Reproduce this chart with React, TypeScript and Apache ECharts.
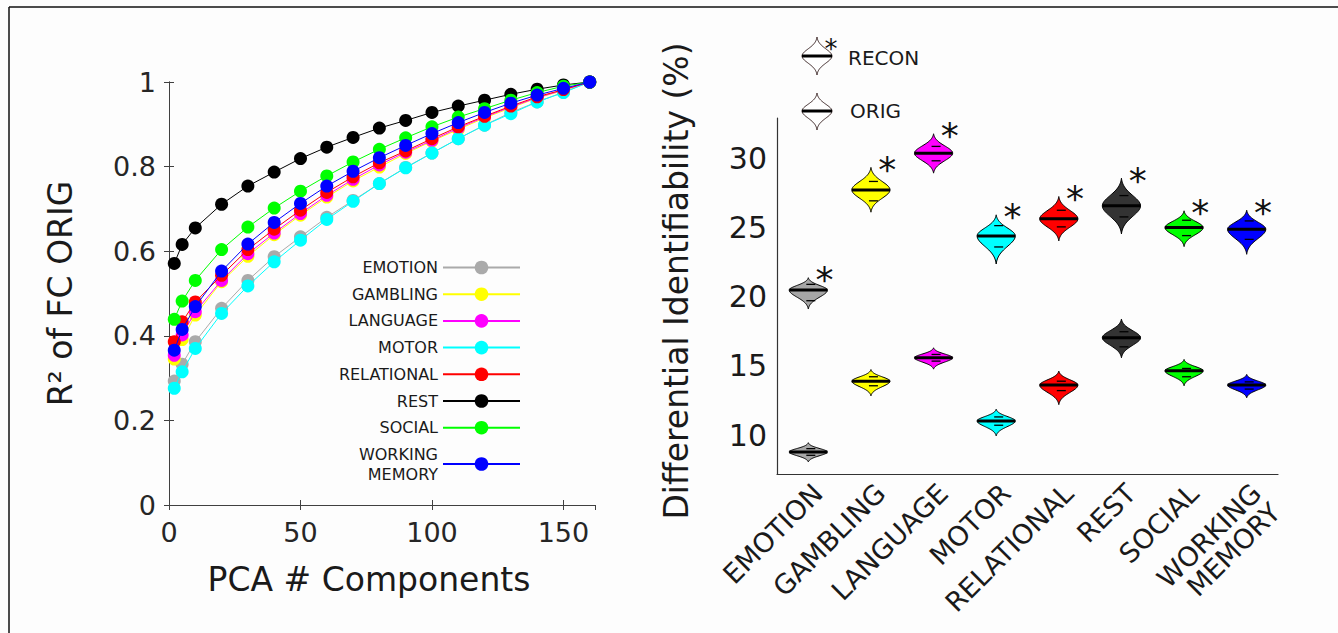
import React, { useEffect, useRef } from "react";
import * as echarts from "echarts";

// ---------- Left panel data ----------
const pcaComponents = [2, 5, 10, 20, 30, 40, 50, 60, 70, 80, 90, 100, 110, 120, 130, 140, 150, 160];
const taskNames = ["EMOTION", "GAMBLING", "LANGUAGE", "MOTOR", "RELATIONAL", "REST", "SOCIAL", "WORKING MEMORY"];
const lineColors = ["#aaaaaa", "#ffff00", "#ff00ff", "#00ffff", "#ff0000", "#000000", "#00ff00", "#0000ff"];
const r2Emotion = [0.293, 0.333, 0.386, 0.465, 0.531, 0.587, 0.634, 0.68, 0.72, 0.76, 0.798, 0.832, 0.866, 0.898, 0.928, 0.953, 0.976, 1.0];
const r2Gambling = [0.345, 0.391, 0.449, 0.528, 0.588, 0.639, 0.685, 0.728, 0.766, 0.799, 0.831, 0.86, 0.888, 0.915, 0.939, 0.962, 0.98, 1.0];
const r2Language = [0.354, 0.402, 0.457, 0.531, 0.594, 0.643, 0.689, 0.732, 0.77, 0.804, 0.834, 0.862, 0.891, 0.917, 0.941, 0.963, 0.981, 1.0];
const r2Motor = [0.276, 0.315, 0.37, 0.453, 0.518, 0.575, 0.626, 0.675, 0.718, 0.76, 0.797, 0.832, 0.866, 0.898, 0.925, 0.953, 0.975, 1.0];
const r2Relational = [0.386, 0.433, 0.48, 0.543, 0.604, 0.652, 0.697, 0.739, 0.776, 0.809, 0.837, 0.866, 0.894, 0.919, 0.943, 0.965, 0.982, 1.0];
const r2Rest = [0.571, 0.616, 0.655, 0.711, 0.754, 0.787, 0.819, 0.846, 0.869, 0.891, 0.909, 0.928, 0.943, 0.957, 0.971, 0.983, 0.993, 1.0];
const r2Social = [0.439, 0.482, 0.531, 0.604, 0.657, 0.702, 0.742, 0.778, 0.811, 0.841, 0.868, 0.894, 0.917, 0.937, 0.957, 0.975, 0.99, 1.0];
const r2WorkingMemory = [0.366, 0.415, 0.469, 0.553, 0.617, 0.668, 0.713, 0.754, 0.789, 0.821, 0.85, 0.878, 0.904, 0.928, 0.95, 0.969, 0.985, 1.0];
const r2Series = [r2Emotion, r2Gambling, r2Language, r2Motor, r2Relational, r2Rest, r2Social, r2WorkingMemory];

// ---------- Right panel data (violins) ----------
const violinFills = ["#a6a6a6", "#ffff00", "#ff00ff", "#00ffff", "#ff0000", "#333333", "#00ff00", "#0000ff"];
const reconMin = [19.11, 26.1, 28.92, 22.36, 24.03, 24.53, 23.62, 23.06];
const reconQ1 = [19.71, 26.92, 29.81, 23.59, 25.04, 25.76, 24.41, 24.14];
const reconMedian = [20.48, 27.71, 30.36, 24.39, 25.62, 26.56, 24.99, 24.87];
const reconQ3 = [20.89, 28.32, 30.85, 25.13, 26.24, 27.3, 25.52, 25.47];
const reconMax = [21.37, 29.33, 31.76, 25.91, 27.23, 28.55, 26.2, 26.24];
const origMin = [8.07, 12.84, 14.77, 9.95, 12.21, 15.59, 13.57, 12.7];
const origQ1 = [8.55, 13.57, 15.35, 10.72, 13.22, 16.38, 14.22, 13.33];
const origMedian = [8.79, 13.9, 15.59, 11.03, 13.62, 17.04, 14.65, 13.62];
const origQ3 = [9.03, 14.22, 15.83, 11.32, 13.9, 17.47, 14.82, 13.85];
const origMax = [9.46, 14.74, 16.31, 11.88, 14.63, 18.39, 15.47, 14.39];
const rightYTicks = [10, 15, 20, 25, 30];

const FONT = "DejaVu Sans";
const TXT = "#262626";

function profile(t: number) {
  const k = 1.9;
  const e = Math.exp(-k * k);
  return (Math.exp(-(k * t) * (k * t)) - e) / (1 - e);
}

function violinPoints(cx: number, yTop: number, yMed: number, yBot: number, hw: number) {
  const N = 28;
  const right: number[][] = [];
  for (let i = 0; i <= N; i++) {
    const t = 1 - i / N;
    right.push([cx + hw * profile(t), yMed + (yTop - yMed) * t]);
  }
  for (let i = 1; i <= N; i++) {
    const t = i / N;
    right.push([cx + hw * profile(t), yMed + (yBot - yMed) * t]);
  }
  const left = right.slice().reverse().map((p) => [2 * cx - p[0], p[1]]);
  return right.concat(left);
}

function makeRender(withStar: boolean) {
  return (params: any, api: any) => {
    const ci = api.value(0);
    const lo = api.value(1);
    const q1 = api.value(2);
    const med = api.value(3);
    const q3 = api.value(4);
    const hi = api.value(5);
    const fill = violinFills[ci];
    const [cx, yMed] = api.coord([ci, med]);
    const yHi = api.coord([ci, hi])[1];
    const yLo = api.coord([ci, lo])[1];
    const yQ1 = api.coord([ci, q1])[1];
    const yQ3 = api.coord([ci, q3])[1];
    const band = api.size([1, 0])[0];
    const hw = band * 0.305;
    const children: any[] = [
      {
        type: "polygon",
        shape: { points: violinPoints(cx, yHi, yMed, yLo, hw) },
        style: { fill, stroke: "#000", lineWidth: 1 },
      },
      {
        type: "line",
        shape: { x1: cx - hw, y1: yMed, x2: cx + hw, y2: yMed },
        style: { stroke: "#000", lineWidth: 3 },
      },
      {
        type: "line",
        shape: { x1: cx - 2, y1: yQ3, x2: cx + 7, y2: yQ3 },
        style: { stroke: "#000", lineWidth: 1.3 },
      },
      {
        type: "line",
        shape: { x1: cx - 2, y1: yQ1, x2: cx + 7, y2: yQ1 },
        style: { stroke: "#000", lineWidth: 1.3 },
      },
    ];
    if (withStar) {
      children.push({
        type: "text",
        style: {
          text: "*",
          x: cx + hw * 0.85,
          y: yHi + 2,
          align: "center",
          verticalAlign: "middle",
          fontSize: 36,
          fontFamily: FONT,
          fill: "#111",
        },
      });
    }
    return { type: "group", children };
  };
}

function legendIcon(cx: number, yTop: number, yMed: number, yBot: number, star: boolean) {
  const els: any[] = [
    {
      type: "polygon",
      shape: { points: violinPoints(cx, yTop, yMed, yBot, 15) },
      style: { fill: "#ffffff", stroke: "#3b2626", lineWidth: 1 },
    },
    {
      type: "line",
      shape: { x1: cx - 15, y1: yMed, x2: cx + 15, y2: yMed },
      style: { stroke: "#000", lineWidth: 3 },
    },
  ];
  if (star) {
    els.push({
      type: "text",
      style: { text: "*", x: cx + 14, y: yTop + 12, align: "center", verticalAlign: "middle", fontSize: 26, fontFamily: FONT, fill: "#111" },
    });
  }
  return els;
}

export default function App() {
  const ref = useRef<HTMLDivElement>(null);
  useEffect(() => {
    if (!ref.current) return;
    const chart = echarts.init(ref.current, null, { renderer: "svg" });

    const lineSeries = taskNames.map((name, i) => ({
      name,
      type: "line",
      xAxisIndex: 0,
      yAxisIndex: 0,
      data: pcaComponents.map((x, j) => [x, r2Series[i][j]]),
      symbol: "circle",
      symbolSize: 13,
      showSymbol: true,
      color: lineColors[i],
      itemStyle: { color: lineColors[i] },
      lineStyle: { color: lineColors[i], width: 1 },
      emphasis: { disabled: true },
      z: 2 + i,
    }));

    const reconData = taskNames.map((_, i) => [i, reconMin[i], reconQ1[i], reconMedian[i], reconQ3[i], reconMax[i]]);
    const origData = taskNames.map((_, i) => [i, origMin[i], origQ1[i], origMedian[i], origQ3[i], origMax[i]]);

    const axisLineStyle = { color: "#404040", width: 1 };

    const option: any = {
      animation: false,
      backgroundColor: "#fdfdfd",
      textStyle: { fontFamily: FONT },
      grid: [
        { left: 169, top: 82, width: 426, height: 423 },
        { left: 777, top: 118, width: 501, height: 356 },
      ],
      xAxis: [
        {
          gridIndex: 0,
          type: "value",
          min: 0,
          max: 162,
          interval: 50,
          position: "bottom",
          axisLine: { show: true, lineStyle: axisLineStyle },
          axisTick: { show: true, inside: true, length: 5, lineStyle: axisLineStyle },
          axisLabel: { fontSize: 27, color: TXT, margin: 14, showMaxLabel: false },
          splitLine: { show: false },
          name: "PCA # Components",
          nameLocation: "middle",
          nameGap: 58,
          nameTextStyle: { fontSize: 33, color: "#1a1a1a", padding: [0, 26, 0, 0] },
        },
        {
          gridIndex: 0,
          type: "value",
          min: 0,
          max: 162,
          interval: 50,
          position: "top",
          axisLine: { show: true, lineStyle: axisLineStyle },
          axisTick: { show: true, inside: true, length: 5, lineStyle: axisLineStyle },
          axisLabel: { show: false },
          splitLine: { show: false },
        },
        {
          gridIndex: 1,
          type: "category",
          data: taskNames,
          boundaryGap: true,
          axisLine: { show: true, lineStyle: { color: "#333", width: 1.2 } },
          axisTick: { show: false },
          axisLabel: {
            rotate: 45,
            interval: 0,
            fontSize: 27,
            color: "#1a1a1a",
            margin: 5,
            verticalAlign: "top",
            formatter: (v: string) => (v === "WORKING MEMORY" ? "WORKING\nMEMORY" : v),
          },
          splitLine: { show: false },
        },
      ],
      yAxis: [
        {
          gridIndex: 0,
          type: "value",
          min: 0,
          max: 1,
          interval: 0.2,
          position: "left",
          axisLine: { show: true, lineStyle: axisLineStyle },
          axisTick: { show: true, inside: true, length: 5, lineStyle: axisLineStyle },
          axisLabel: { fontSize: 27, color: TXT, margin: 13 },
          splitLine: { show: false },
          name: "R² of FC ORIG",
          nameLocation: "middle",
          nameRotate: 90,
          nameGap: 92,
          nameTextStyle: { fontSize: 33, color: "#1a1a1a" },
        },
        {
          gridIndex: 0,
          type: "value",
          min: 0,
          max: 1,
          interval: 0.2,
          position: "right",
          axisLine: { show: true, lineStyle: axisLineStyle },
          axisTick: { show: true, inside: true, length: 5, lineStyle: axisLineStyle },
          axisLabel: { show: false },
          splitLine: { show: false },
        },
        {
          gridIndex: 1,
          type: "value",
          min: 7.2,
          max: 32.9,
          position: "left",
          axisLine: { show: true, lineStyle: { color: "#333", width: 1.2 } },
          axisTick: { show: false },
          axisLabel: { fontSize: 30, color: "#1a1a1a", margin: 10, customValues: rightYTicks },
          splitLine: { show: false },
          name: "Differential Identifiability (%)",
          nameLocation: "middle",
          nameRotate: 90,
          nameGap: 84,
          nameTextStyle: { fontSize: 33, color: "#1a1a1a", padding: [0, 0, 0, 30] },
        },
      ],
      legend: [
        {
          data: taskNames.slice(0, 7),
          orient: "vertical",
          align: "right",
          right: 1338 - 521,
          top: 259.5,
          padding: 0,
          itemWidth: 77,
          itemHeight: 17,
          itemGap: 10.7,
          textStyle: { fontSize: 16, color: "#1a1a1a", fontFamily: FONT },
          selectedMode: false,
        },
        {
          data: ["WORKING MEMORY"],
          orient: "vertical",
          align: "right",
          right: 1338 - 521,
          top: 444,
          padding: 0,
          itemWidth: 77,
          itemHeight: 17,
          formatter: () => "WORKING\nMEMORY",
          textStyle: { fontSize: 16, color: "#1a1a1a", fontFamily: FONT, lineHeight: 20 },
          selectedMode: false,
        },
      ],
      graphic: [
        {
          type: "line",
          shape: { x1: 9, y1: 7, x2: 1338, y2: 7 },
          style: { stroke: "#111", lineWidth: 1.5 },
          silent: true,
        },
        {
          type: "line",
          shape: { x1: 9, y1: 7, x2: 9, y2: 633 },
          style: { stroke: "#111", lineWidth: 1.5 },
          silent: true,
        },
        ...legendIcon(817, 37, 56, 75, true),
        ...legendIcon(817, 93, 111, 130, false),
        {
          type: "text",
          style: { text: "RECON", x: 848, y: 58, verticalAlign: "middle", fontSize: 20, fontFamily: FONT, fill: "#1a1a1a" },
        },
        {
          type: "text",
          style: { text: "ORIG", x: 850, y: 111, verticalAlign: "middle", fontSize: 20, fontFamily: FONT, fill: "#1a1a1a" },
        },
      ],
      series: [
        ...lineSeries,
        {
          name: "RECON",
          type: "custom",
          xAxisIndex: 2,
          yAxisIndex: 2,
          data: reconData,
          renderItem: makeRender(true),
          encode: { x: 0, y: [1, 5] },
          clip: false,
        },
        {
          name: "ORIG",
          type: "custom",
          xAxisIndex: 2,
          yAxisIndex: 2,
          data: origData,
          renderItem: makeRender(false),
          encode: { x: 0, y: [1, 5] },
          clip: false,
        },
      ],
    };
    chart.setOption(option);
    return () => chart.dispose();
  }, []);
  return (
    <div
      ref={ref}
      style={{ position: "absolute", left: 0, top: 0, width: 1338, height: 633 }}
    />
  );
}
